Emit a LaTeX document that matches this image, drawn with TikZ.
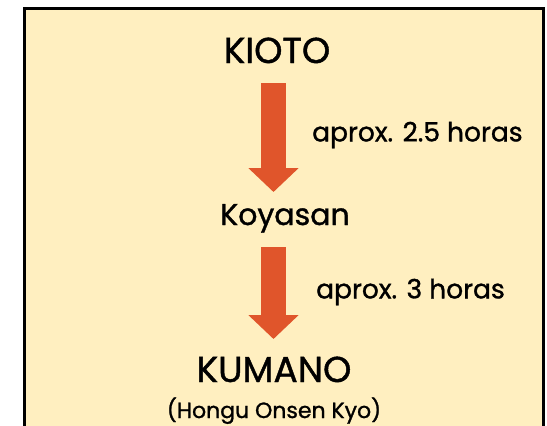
\documentclass[tikz,border=0pt]{standalone}
\usepackage{fontspec}
\setmainfont[BoldFont=Poppins, BoldFeatures={FakeBold=1.2}]{Poppins}
\usepackage{xcolor}
\usepackage{tikz}
\usetikzlibrary{arrows.meta}

\definecolor{panelfill}{HTML}{FFEFC0}
\definecolor{flowred}{HTML}{E0552B}

\begin{document}
\begin{tikzpicture}[
  x=1pt, y=-1pt,
  place/.style={anchor=base, inner sep=0pt, font=\bfseries\fontsize{36}{40}\selectfont},
  note/.style={anchor=west, inner sep=0pt, font=\bfseries\fontsize{26.5}{30}\selectfont},
  flow/.style={flowred, line width=25pt, -{Triangle[width=49pt, length=24pt]}}
]
  \useasboundingbox (0,0) rectangle (547,426);
  \fill[panelfill] (24,8.5) rectangle (543.5,430);
  \draw[line width=3pt] (24,440) -- (24,8.5) -- (543.5,8.5) -- (543.5,440);

  % towns
  \node[place] (kioto) at (277,63) {KIOTO};
  \node[place, font=\bfseries\fontsize{30}{34}\selectfont] (koyasan) at (285,225) {Koyasan};
  \node[place] (kumano) at (274,382) {KUMANO};
  \node[place, font=\bfseries\fontsize{22}{26}\selectfont] (onsen) at (274,418) {(Hongu Onsen Kyo)};

  % travel times
  \coordinate (a1) at (273.5,83);
  \coordinate (b1) at (273.5,192);
  \coordinate (a2) at (273.5,247);
  \coordinate (b2) at (273.5,339);
  \draw[flow] (a1) -- (b1);
  \draw[flow] (a2) -- (b2);
  \node[note] (t1) at (312,135) {aprox. 2.5 horas};
  \node[note] (t2) at (316,292) {aprox. 3 horas};
\end{tikzpicture}
\end{document}
